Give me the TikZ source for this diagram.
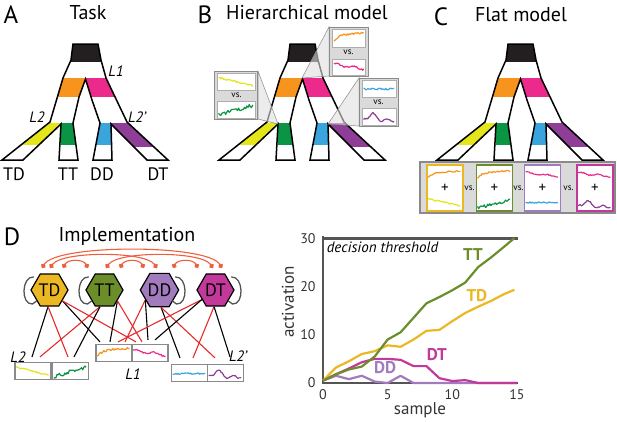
\documentclass[tikz,border=0pt]{standalone}
\usepackage{fontspec}
\setmainfont{PT Sans}
\usepackage{tikz}
\usetikzlibrary{shapes.geometric}
\usetikzlibrary{arrows.meta,positioning}

\definecolor{tblack}{HTML}{231F20}
\definecolor{torange}{HTML}{F7941D}
\definecolor{tpink}{HTML}{EC2A8C}
\definecolor{tyellow}{HTML}{E4E61B}
\definecolor{tgreen}{HTML}{0B9444}
\definecolor{tblue}{HTML}{3AA5DC}
\definecolor{tpurple}{HTML}{8E3E96}
\definecolor{cTD}{HTML}{EBB823}
\definecolor{cTT}{HTML}{6B8E2B}
\definecolor{cDD}{HTML}{A27BBE}
\definecolor{cDT}{HTML}{C2399B}
\definecolor{inhred}{HTML}{E62A2A}
\definecolor{dotred}{HTML}{EE5F3F}
\definecolor{frame}{HTML}{8A8A8A}
\definecolor{panel}{HTML}{DADADA}
\definecolor{axisgray}{HTML}{555555}

%% noisy traces, t = \x in 0..1
\newcommand{\fOr}{0.2+0.5*(1-exp(-7*\x))+0.12*\x+0.06*rand}
\newcommand{\fPk}{0.7-0.3*\x+0.07*sin(700*\x)+0.05*rand}
\newcommand{\fYe}{0.8-0.55*\x+0.05*rand}
\newcommand{\fGr}{0.18+0.6*\x+0.11*rand}
\newcommand{\fBl}{0.5+0.05*rand}
\newcommand{\fPu}{0.3+0.45*exp(-(\x-0.3)*(\x-0.3)/0.012)+0.08*sin(1100*\x)+0.04*rand}

\newcommand{\trace}[5]{%
  \begin{scope}[shift={#1},x=#2pt,y=#3pt]
    \draw[#4,line width=1.2pt,line join=round] plot[domain=.05:.95,samples=30] (\x,{#5});
  \end{scope}}

\newcommand{\drawtree}[1]{%
  \begin{scope}[shift={(#1,0)}]
    \begin{scope}
      \clip (73,44) -- (98,44) -- (101,60) -- (106,78) -- (127,122) -- (168,160) -- (147,160) -- (111,124) -- (112,160) -- (93,160) -- (100,123) -- (92,100) -- (85.5,79) -- (79,97) -- (73,123) -- (78,160) -- (59,160) -- (61,124) -- (23,160) -- (2,160) -- (50,122) -- (63,78) -- (71,60) -- cycle;
      \fill[white] (0,40) rectangle (200,165);
      \fill[tblack] (0,40) rectangle (200,62);
      \fill[torange] (0,78) rectangle (85.5,97);
      \fill[tpink] (85.5,78) rectangle (200,97);
      \fill[tyellow] (0,123) rectangle (61,145);
      \fill[tgreen] (61,123) rectangle (85,145);
      \fill[tblue] (85,123) rectangle (111,145);
      \fill[tpurple] (111,123) rectangle (200,147);
    \end{scope}
    \draw[line width=1.5pt,miter limit=4] (73,44) -- (98,44) -- (101,60) -- (106,78) -- (127,122) -- (168,160) -- (147,160) -- (111,124) -- (112,160) -- (93,160) -- (100,123) -- (92,100) -- (85.5,79) -- (79,97) -- (73,123) -- (78,160) -- (59,160) -- (61,124) -- (23,160) -- (2,160) -- (50,122) -- (63,78) -- (71,60) -- cycle;
  \end{scope}}

\begin{document}
\begin{tikzpicture}[x=1pt,y=-1pt]%
  \pgfmathsetseed{11}
  \tikzstyle{letter}=[font=\fontsize{25}{25}\selectfont]
  \tikzstyle{title}=[font=\fontsize{20}{20}\selectfont]
  \tikzstyle{leaf}=[font=\fontsize{18}{18}\selectfont]
  \tikzstyle{lvl}=[font=\fontsize{15}{15}\selectfont\itshape]
  \tikzstyle{vs}=[font=\fontsize{9}{9}\selectfont, inner sep=0pt]
  \tikzstyle{inset}=[draw=frame, fill=panel, line width=1.2pt, inner sep=0pt]
  \tikzstyle{pane}=[draw=frame!70, fill=white, line width=.5pt, inner sep=0pt]
  \tikzstyle{callout}=[fill=black!12, fill opacity=.6, draw=frame, line width=.5pt]
  \tikzstyle{frm}=[fill=white, line width=1.5pt, minimum width=36, minimum height=46, inner sep=0pt, font=\fontsize{15}{15}\selectfont]
  \tikzstyle{obs}=[draw=frame, fill=white, line width=1.2pt, minimum width=36, minimum height=17, inner sep=0pt]
  \tikzstyle{unit}=[regular polygon, regular polygon sides=6, draw, line width=1.2pt, minimum size=37, inner sep=0pt, font=\fontsize{18}{18}\selectfont]
  \tikzstyle{exc}=[black, line width=1.1pt]
  \tikzstyle{inh}=[inhred, line width=1.1pt]
  \tikzstyle{lat}=[dotred, line width=1.1pt, {Circle[length=5pt]}-{Circle[length=5pt]}]
  \tikzstyle{self}=[axisgray, line width=1.3pt, line cap=round]
  \tikzstyle{curve}=[line width=2.2pt, line join=round]
  \tikzstyle{tick}=[font=\fontsize{14}{14}\selectfont, text=black!80]
  \tikzstyle{glab}=[font=\fontsize{17}{17}\selectfont\bfseries]
  \useasboundingbox (0,0) rectangle (617,421);

  %% A: task
  \node[letter] (lA) at (11,15) {A};
  \node[title] (tA) at (88,13) {Task};
  \drawtree{0}
  \node[leaf] (aTD) at (14,174) {TD};
  \node[leaf] (aTT) at (68,174) {TT};
  \node[leaf] (aDD) at (102,174) {DD};
  \node[leaf] (aDT) at (158,174) {DT};
  \node[lvl] (aL1) at (116,71) {L1};
  \node[lvl] (aL2) at (37,117) {L2};
  \node[lvl] (aL2p) at (137,117) {L2’};

  %% B: hierarchical model
  \node[letter] (lB) at (205,15) {B};
  \node[title] (tB) at (307,13) {Hierarchical model};
  \drawtree{217}
  \coordinate (nL1) at (302,78);
  \coordinate (nL2) at (278,124);
  \coordinate (nL2p) at (328,124);
  \coordinate (hL1nw) at (329,27);
  \coordinate (hL2ne) at (258,71);
  \coordinate (hL2pnw) at (359,78);
  \filldraw[callout] (nL1) -- (hL1nw) -- (329,76) -- cycle;
  \filldraw[callout] (nL2) -- (hL2ne) -- (258,119) -- cycle;
  \filldraw[callout] (nL2p) -- (hL2pnw) -- (359,126) -- cycle;
  \node[inset, minimum width=39, minimum height=49, anchor=north west] (hL1) at (hL1nw) {};
  \node[inset, minimum width=43, minimum height=48, anchor=north east] (hL2) at (hL2ne) {};
  \node[inset, minimum width=39, minimum height=48, anchor=north west] (hL2p) at (hL2pnw) {};
  \node[pane, minimum width=33, minimum height=18, below=2pt of hL1.north] (hL1a) {};
  \node[pane, minimum width=33, minimum height=16, above=2pt of hL1.south] (hL1b) {};
  \node[pane, minimum width=38, minimum height=17, below=2pt of hL2.north] (hL2a) {};
  \node[pane, minimum width=38, minimum height=17, above=2pt of hL2.south] (hL2b) {};
  \node[pane, minimum width=34, minimum height=17, below=2pt of hL2p.north] (hL2pa) {};
  \node[pane, minimum width=34, minimum height=17, above=2pt of hL2p.south] (hL2pb) {};
  \node[vs] (vL1) at (348.5,52) {vs.};
  \node[vs] (vL2) at (236.5,95) {vs.};
  \node[vs] (vL2p) at (378.5,102) {vs.};
  \trace{(hL1a.south west)}{33}{18}{torange}{\fOr}
  \trace{(hL1b.south west)}{33}{16}{tpink}{\fPk}
  \trace{(hL2a.south west)}{38}{17}{tyellow}{\fYe}
  \trace{(hL2b.south west)}{38}{17}{tgreen}{\fGr}
  \trace{(hL2pa.south west)}{34}{17}{tblue}{\fBl}
  \trace{(hL2pb.south west)}{34}{17}{tpurple}{\fPu}

  %% C: flat model
  \node[letter] (lC) at (441,17) {C};
  \node[title] (tC) at (521,15) {Flat model};
  \drawtree{435}
  \node[inset, minimum width=195, minimum height=51] (flat) at (517.5,187.5) {};
  \node[frm, draw=cTD] (f1) at (445,188) {+};
  \node[frm, draw=cTT] (f2) at (494.5,188) {+};
  \node[frm, draw=cDD] (f3) at (542.5,188) {+};
  \node[frm, draw=cDT] (f4) at (595,188) {+};
  \node[vs] (v12) at (469.5,188) {vs.};
  \node[vs] (v23) at (518.5,188) {vs.};
  \node[vs] (v34) at (568.5,188) {vs.};
  \trace{(f1.west)}{36}{23}{torange}{0.25+0.6*(\fOr)}
  \trace{(f1.south west)}{36}{23}{tyellow}{0.1+0.6*(\fYe)}
  \trace{(f2.west)}{36}{23}{torange}{0.25+0.6*(\fOr)}
  \trace{(f2.south west)}{36}{23}{tgreen}{0.05+0.6*(\fGr)}
  \trace{(f3.west)}{36}{23}{tpink}{0.25+0.6*(\fPk)}
  \trace{(f3.south west)}{36}{23}{tblue}{0.1+0.6*(\fBl)}
  \trace{(f4.west)}{36}{23}{tpink}{0.25+0.6*(\fPk)}
  \trace{(f4.south west)}{36}{23}{tpurple}{0.05+0.6*(\fPu)}

  %% D: implementation
  \node[letter] (lD) at (12,237) {D};
  \node[title] (tD) at (127,236) {Implementation};
  \node[unit, fill=cTD] (td) at (49.5,290) {TD};
  \node[unit, fill=cTT] (tt) at (104.5,290) {TT};
  \node[unit, fill=cDD] (dd) at (159.5,290) {DD};
  \node[unit, fill=cDT] (dt) at (215.5,290) {DT};
  \node[obs] (yb) at (33,371) {};
  \node[obs] (gb) at (70.5,371) {};
  \node[obs] (ob) at (114,353) {};
  \node[obs] (pb) at (150,353) {};
  \node[obs] (bb) at (189.5,373) {};
  \node[obs] (ub) at (225.5,373) {};
  \trace{(yb.south west)}{36}{17}{tyellow}{\fYe}
  \trace{(gb.south west)}{36}{17}{tgreen}{\fGr}
  \trace{(ob.south west)}{36}{17}{torange}{\fOr}
  \trace{(pb.south west)}{36}{17}{tpink}{\fPk}
  \trace{(bb.south west)}{36}{17}{tblue}{\fBl}
  \trace{(ub.south west)}{36}{17}{tpurple}{\fPu}
  \node[lvl] (dL2) at (18,357) {L2};
  \node[lvl] (dL1) at (133,374) {L1};
  \node[lvl] (dL2p) at (238,356) {L2’};
  %% mutual inhibition
  \draw[lat] ([shift={(-7.5,-22)}]td.center) .. controls +(15,-24) and +(-15,-24) .. ([shift={(6.5,-22)}]dt.center);
  \draw[lat] ([shift={(0.5,-22)}]td.center) .. controls +(12,-17) and +(-12,-17) .. ([shift={(-2.5,-22)}]dd.center);
  \draw[lat] ([shift={(1.5,-22)}]tt.center) .. controls +(12,-17) and +(-12,-17) .. ([shift={(-2.5,-22)}]dt.center);
  \draw[lat] ([shift={(13.5,-22)}]td.center) .. controls +(5,-9) and +(-5,-9) .. ([shift={(-16.5,-22)}]tt.center);
  \draw[lat] ([shift={(15.5,-22)}]tt.center) .. controls +(5,-9) and +(-5,-9) .. ([shift={(-15.5,-22)}]dd.center);
  \draw[lat] ([shift={(13.5,-22)}]dd.center) .. controls +(5,-9) and +(-5,-9) .. ([shift={(-17.5,-22)}]dt.center);
  %% self excitation
  \draw[self] ([shift={(-16,-13)}]td.center) .. controls +(-12,-1) and +(-12,1) .. ([shift={(-17,14)}]td.center) -- +(4,-3);
  \draw[self] ([shift={(-16,-13)}]tt.center) .. controls +(-12,-1) and +(-12,1) .. ([shift={(-17,14)}]tt.center) -- +(4,-3);
  \draw[self] ([shift={(16,-13)}]dd.center) .. controls +(12,-1) and +(12,1) .. ([shift={(17,14)}]dd.center) -- +(-4,-3);
  \draw[self] ([shift={(16,-13)}]dt.center) .. controls +(12,-1) and +(12,1) .. ([shift={(17,14)}]dt.center) -- +(-4,-3);
  %% feed-forward
  \draw[exc] (td.-95) -- ([xshift=-1pt,yshift=5pt]yb.north);
  \draw[inh] (td.-95) -- ([xshift=-2.5pt,yshift=5pt]gb.north);
  \draw[exc] (td.-40) -- ([xshift=-14pt,yshift=2pt]ob.north);
  \draw[inh] (td.-40) -- ([xshift=-14pt,yshift=2pt]pb.north);
  \draw[inh] (tt.-105) -- ([xshift=7pt,yshift=5pt]yb.north);
  \draw[exc] (tt.-105) -- ([xshift=3.5pt,yshift=5pt]gb.north);
  \draw[exc] (tt.-40) -- ([xshift=-4pt,yshift=2pt]ob.north);
  \draw[inh] (tt.-40) -- ([xshift=-8pt,yshift=2pt]pb.north);
  \draw[inh] (dd.-145) -- ([xshift=11pt,yshift=2pt]ob.north);
  \draw[exc] (dd.-145) -- ([xshift=-2pt,yshift=4pt]pb.north);
  \draw[exc] (dd.-85) -- ([xshift=-9.5pt,yshift=6pt]bb.north);
  \draw[inh] (dd.-85) -- ([xshift=-10.5pt,yshift=6pt]ub.north);
  \draw[inh] (dt.-145) -- ([xshift=4pt,yshift=2pt]ob.north);
  \draw[exc] (dt.-145) -- ([xshift=5pt,yshift=4pt]pb.north);
  \draw[inh] (dt.-95) -- ([xshift=3.5pt,yshift=6pt]bb.north);
  \draw[exc] (dt.-95) -- ([xshift=4.5pt,yshift=7pt]ub.north);

  %% activation traces
  \node[rotate=90, font=\fontsize{17}{17}\selectfont, text=black!80] (ylab) at (288,302) {activation};
  \node[font=\fontsize{17}{17}\selectfont, text=black!80] (xlab) at (420,410) {sample};
  \begin{scope}[shift={(323,383)}, x=12.93pt, y=4.83pt]
    \draw[line width=3pt, axisgray] (0,30) -- (15.1,30);
    \draw[axisgray, line width=1.1pt] (0,30.5) -- (0,0) -- (15.1,0);
    \foreach \v in {0,10,20,30} \node[tick, anchor=east] (yt\v) at (-0.3,\v) {\v};
    \foreach \v in {0,5,10,15} \node[tick, anchor=north] (xt\v) at (\v,-0.6) {\v};
    \node[font=\fontsize{15}{15}\selectfont\itshape] (thr) at (4.6,28.0) {decision threshold};
    \draw[curve, cDD] plot coordinates {(0,0.5) (1,1.5) (2,0.8) (3,1.5) (4,0.3) (5,0) (6,1.5) (7,0) (15,0)};
    \draw[curve, cDT] plot coordinates {(0,0.5) (1,1.8) (2,3) (3,4.3) (4,5) (5,5) (6,4.8) (7,3.5) (8,3.5) (9,1) (10,0.4) (11,0.6) (12,0) (15,0)};
    \draw[curve, cTD] plot coordinates {(0,0.5) (1,3.2) (2,4.5) (3,6) (4,6.6) (5,7.8) (6,7.5) (7,9) (8,10.8) (9,11) (10,12.8) (11,14.5) (12,15.8) (13,17) (14,18.4) (14.8,19.3)};
    \draw[curve, cTT] plot coordinates {(0,0.5) (1,1.8) (2,2.8) (3,3.4) (4,5.5) (5,9) (6,10.5) (7,13.5) (8,16.5) (9,17.8) (10,19.2) (11,20.8) (12,24) (13,26) (14,28.2) (14.8,30)};
    \node[glab, text=cTT] (gTT) at (11.6,26.5) {TT};
    \node[glab, text=cTD] (gTD) at (11.9,18.2) {TD};
    \node[glab, text=cDT] (gDT) at (8.8,5.8) {DT};
    \node[glab, text=cDD] (gDD) at (4.8,3.1) {DD};
  \end{scope}
\end{tikzpicture}
\end{document}
